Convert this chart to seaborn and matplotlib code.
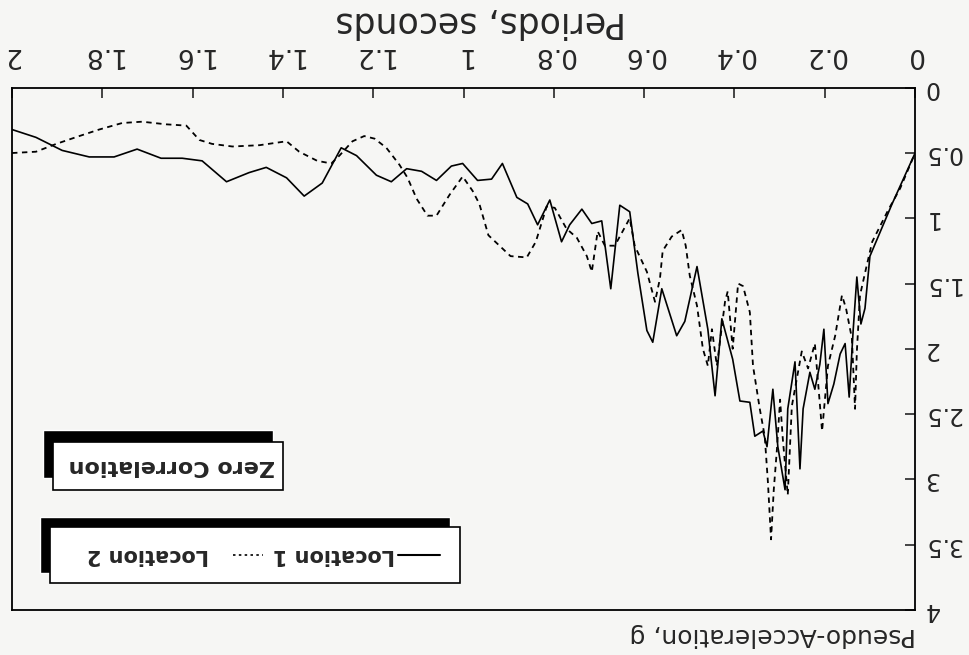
import matplotlib
matplotlib.use("Agg")
import matplotlib.pyplot as plt
import seaborn as sns
from matplotlib.patches import Rectangle
from matplotlib.lines import Line2D

# periods (s) and pseudo-acceleration (g)
loc1_period = [2.00, 1.947, 1.889, 1.829, 1.774, 1.723, 1.670, 1.623, 1.579, 1.525,
               1.475, 1.437, 1.392, 1.353, 1.313, 1.271, 1.237, 1.193, 1.160, 1.126,
               1.093, 1.060, 1.027, 1.002, 0.969, 0.938, 0.914, 0.882, 0.858, 0.836,
               0.809, 0.783, 0.765, 0.738, 0.716, 0.694, 0.674, 0.654, 0.632, 0.614,
               0.594, 0.581, 0.561, 0.528, 0.510, 0.483, 0.459, 0.443, 0.428, 0.404,
               0.388, 0.366, 0.355, 0.337, 0.328, 0.315, 0.304, 0.288, 0.282, 0.266,
               0.255, 0.248, 0.233, 0.222, 0.211, 0.202, 0.193, 0.180, 0.166, 0.155,
               0.146, 0.137, 0.129, 0.120, 0.111, 0.100, 0.051, 0.0]
loc1_acc = [0.32, 0.38, 0.48, 0.53, 0.53, 0.47, 0.54, 0.54, 0.56, 0.72,
            0.65, 0.61, 0.69, 0.83, 0.73, 0.46, 0.52, 0.67, 0.72, 0.62,
            0.64, 0.71, 0.60, 0.58, 0.71, 0.70, 0.58, 0.84, 0.89, 1.05,
            0.86, 1.18, 1.05, 0.93, 1.04, 1.02, 1.54, 0.90, 0.95, 1.42,
            1.86, 1.95, 1.54, 1.90, 1.79, 1.37, 1.85, 2.36, 1.77, 2.08,
            2.40, 2.41, 2.67, 2.63, 2.75, 2.31, 2.75, 3.08, 2.46, 2.10,
            2.92, 2.46, 2.18, 2.31, 2.12, 1.85, 2.42, 2.27, 2.04, 1.96,
            2.37, 1.85, 1.45, 1.81, 1.69, 1.29, 0.89, 0.50]

loc2_period = [2.00, 1.947, 1.902, 1.851, 1.807, 1.756, 1.712, 1.659, 1.614, 1.585,
               1.557, 1.512, 1.452, 1.392, 1.364, 1.324, 1.293, 1.275, 1.246, 1.220,
               1.197, 1.171, 1.142, 1.124, 1.104, 1.080, 1.060, 1.031, 1.002, 0.980,
               0.965, 0.945, 0.896, 0.860, 0.840, 0.816, 0.798, 0.772, 0.749, 0.727,
               0.716, 0.703, 0.687, 0.665, 0.632, 0.621, 0.594, 0.576, 0.565, 0.559,
               0.539, 0.517, 0.508, 0.499, 0.483, 0.470, 0.459, 0.450, 0.439, 0.421,
               0.415, 0.404, 0.392, 0.381, 0.366, 0.359, 0.344, 0.333, 0.326, 0.319,
               0.313, 0.306, 0.299, 0.293, 0.282, 0.273, 0.251, 0.237, 0.222, 0.206,
               0.193, 0.177, 0.162, 0.153, 0.140, 0.133, 0.129, 0.122, 0.109, 0.095,
               0.060, 0.033, 0.0]
loc2_acc = [0.50, 0.49, 0.43, 0.37, 0.32, 0.27, 0.26, 0.28, 0.29, 0.40,
            0.43, 0.45, 0.44, 0.41, 0.49, 0.56, 0.58, 0.52, 0.41, 0.37,
            0.39, 0.46, 0.59, 0.69, 0.85, 0.98, 0.98, 0.82, 0.68, 0.79,
            0.89, 1.13, 1.29, 1.30, 1.18, 0.91, 0.92, 1.08, 1.15, 1.29,
            1.41, 1.10, 1.21, 1.21, 1.00, 1.21, 1.41, 1.64, 1.46, 1.25,
            1.14, 1.09, 1.21, 1.44, 1.67, 2.00, 2.13, 1.85, 2.13, 1.64,
            1.56, 2.00, 1.50, 1.52, 1.72, 2.13, 2.46, 2.67, 3.02, 3.46,
            3.08, 2.77, 2.39, 2.69, 3.12, 2.44, 2.02, 2.15, 1.96, 2.63,
            2.13, 1.90, 1.59, 1.69, 1.92, 2.46, 2.02, 1.59, 1.39, 1.18,
            0.94, 0.77, 0.50]

x_ticks = [0, 0.2, 0.4, 0.6, 0.8, 1.0, 1.2, 1.4, 1.6, 1.8, 2.0]
x_tick_labels = ["0", "0.2", "0.4", "0.6", "0.8", "1", "1.2", "1.4", "1.6", "1.8", "2"]
y_ticks = [0, 0.5, 1, 1.5, 2, 2.5, 3, 3.5, 4]
y_tick_labels = ["0", "0.5", "1", "1.5", "2", "2.5", "3", "3.5", "4"]
series_names = ["Location 1", "Location 2"]
box_title = "Zero Correlation"

sns.set_style("white")
plt.rcParams["font.family"] = ["DejaVu Sans"]

bg = "#f6f6f4"
fig = plt.figure(figsize=(9.7, 6.55), dpi=100, facecolor=bg)
ax = fig.add_axes([0.0124, 0.069, 0.931, 0.797])
ax.set_facecolor(bg)

dash = (0, (3, 2.5))
sns.lineplot(x=loc1_period, y=loc1_acc, ax=ax, color="black", lw=1.2,
             estimator=None, sort=False)
sns.lineplot(x=loc2_period, y=loc2_acc, ax=ax, color="black", lw=1.3,
             linestyle=dash, estimator=None, sort=False)

# the scan is upside down: flip both axes and turn all text by 180 degrees
ax.set_xlim(2, 0)
ax.set_ylim(4, 0)
ax.xaxis.tick_top()
ax.yaxis.tick_right()
ax.set_xticks(x_ticks)
ax.set_xticklabels(x_tick_labels, rotation=180)
ax.set_yticks(y_ticks)
ax.set_yticklabels(y_tick_labels, rotation=180, va="center")
ax.tick_params(axis="x", direction="in", length=7, width=1.2, pad=14, labelsize=19)
ax.tick_params(axis="y", direction="in", length=7, width=1.2, pad=6, labelsize=17)
for s in ax.spines.values():
    s.set_color("black")
    s.set_linewidth(1.3)

fig.text(0.496, 0.966, "Periods, seconds", rotation=180, ha="center", va="center", fontsize=25)
fig.text(0.797, 0.031, "Pseudo-Acceleration, g", rotation=180, ha="center", va="center", fontsize=18)

# shadowed label boxes
tr = ax.transAxes
ax.add_patch(Rectangle((0.031, 0.071), 0.454, 0.107, transform=tr, facecolor="black", zorder=4))
ax.add_patch(Rectangle((0.042, 0.052), 0.454, 0.107, transform=tr, facecolor="white",
                       edgecolor="black", lw=1.2, zorder=5))
ax.add_patch(Rectangle((0.034, 0.253), 0.255, 0.092, transform=tr, facecolor="black", zorder=4))
ax.add_patch(Rectangle((0.045, 0.230), 0.255, 0.092, transform=tr, facecolor="white",
                       edgecolor="black", lw=1.2, zorder=5))

ax.text(0.177, 0.276, box_title, transform=tr, rotation=180, ha="center", va="center",
        fontsize=16, fontweight="bold", zorder=6)
ax.add_line(Line2D([0.427, 0.474], [0.105, 0.105], transform=tr, color="black", lw=1.5, zorder=6))
ax.text(0.356, 0.105, series_names[0], transform=tr, rotation=180, ha="center", va="center",
        fontsize=15, fontweight="bold", zorder=6)
ax.add_line(Line2D([0.245, 0.278], [0.105, 0.105], transform=tr, color="black", lw=1.2,
                   linestyle=(0, (1.5, 2)), zorder=6))
ax.text(0.151, 0.105, series_names[1], transform=tr, rotation=180, ha="center", va="center",
        fontsize=15, fontweight="bold", zorder=6)

fig.savefig("out.png", dpi=100, facecolor=bg)
